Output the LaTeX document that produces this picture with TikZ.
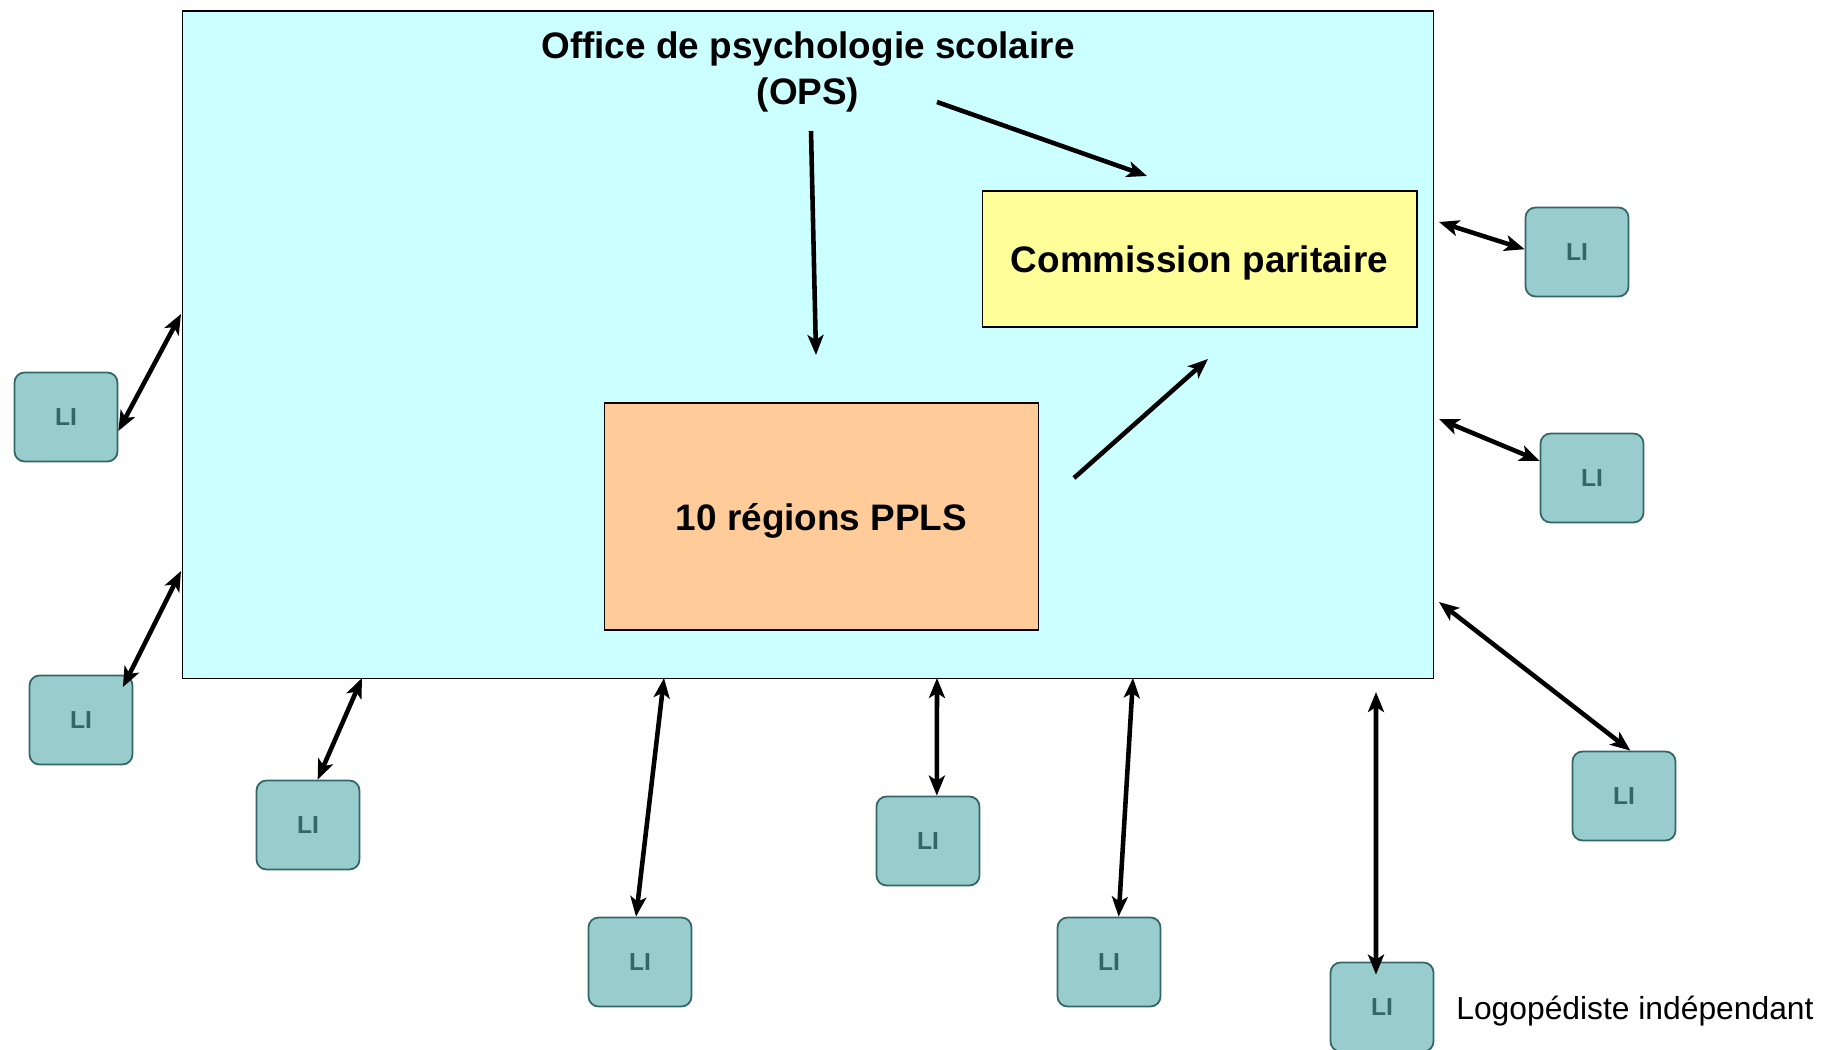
\documentclass[tikz,border=0pt]{standalone}
\usepackage{fontspec}
\setmainfont{Liberation Sans}
\usetikzlibrary{arrows.meta}

\definecolor{opscyan}{HTML}{CCFFFF}
\definecolor{cpyellow}{HTML}{FFFF99}
\definecolor{pplsorange}{HTML}{FFCC99}
\definecolor{lifill}{HTML}{99CCCC}
\definecolor{liedge}{HTML}{336666}

\tikzset{
  li/.style={draw=liedge, line width=1pt, fill=lifill, rounded corners=0.2cm,
    minimum width=2.06cm, minimum height=1.78cm, text=liedge,
    font=\fontsize{14}{16}\selectfont\bfseries},
  panel/.style={draw, line width=0.6pt, minimum width=8.7cm, text depth=0pt,
    font=\fontsize{21}{25}\selectfont\bfseries},
  link/.style={line width=2.6pt, -{Stealth[length=0.4cm,width=0.32cm,inset=0.1cm]}},
  twoway/.style={line width=2.6pt,
    {Stealth[length=0.4cm,width=0.32cm,inset=0.1cm]}-{Stealth[length=0.4cm,width=0.32cm,inset=0.1cm]}},
}

\begin{document}
\begin{tikzpicture}[x=0.02cm, y=-0.02cm]
\useasboundingbox (0,0) rectangle (1836,1050);

% office
\node[draw, line width=0.8pt, fill=opscyan, minimum width=25.03cm, minimum height=13.35cm,
  anchor=north west, inner sep=0pt] (office) at (181.5,10.5) {};
\node[align=center, font=\fontsize{21}{26}\selectfont\bfseries] (ops) at (808,72)
  {Office de psychologie scolaire\\(OPS)};
\node[panel, fill=cpyellow, minimum height=2.72cm] (commission) at (1199.5,259) {Commission paritaire};
\node[panel, fill=pplsorange, minimum height=4.54cm] (ppls) at (821.5,516.5) {10 régions PPLS};

% LI
\node[li] (li1) at (66,417) {LI};
\node[li] (li2) at (81,720) {LI};
\node[li] (li3) at (308,825) {LI};
\node[li] (li4) at (640,962) {LI};
\node[li] (li5) at (928,841) {LI};
\node[li] (li6) at (1109,962) {LI};
\node[li] (li7) at (1382,1007) {LI};
\node[li] (li8) at (1624,796) {LI};
\node[li] (li9) at (1592,478) {LI};
\node[li] (li10) at (1577,252) {LI};
\node[anchor=west, inner sep=0pt, font=\fontsize{18.1}{21}\selectfont] (legend) at (1456,1011)
  {Logopédiste indépendant};

% free ends
\coordinate (o1) at (811,131);
\coordinate (o2) at (816,355);
\coordinate (o3) at (937,102);
\coordinate (o4) at (1147,176);
\coordinate (p1) at (1074,478);
\coordinate (p2) at (1208,359);
\coordinate (b1) at (181,314);
\coordinate (b2) at (181,571);
\coordinate (b3) at (362,678);
\coordinate (b4) at (664,678);
\coordinate (b5) at (937,678);
\coordinate (b6) at (1133,678);
\coordinate (b7) at (1376,692);
\coordinate (b8) at (1439,602);
\coordinate (b9) at (1439,419);
\coordinate (b10) at (1439,222);

\draw[link] (o1) -- (o2);
\draw[link] (o3) -- (o4);
\draw[link] (p1) -- (p2);

% LI links
\draw[twoway] (li1.-15) -- (b1);
\draw[twoway] ([xshift=-0.21cm,yshift=-0.25cm]li2.north east) -- (b2);
\draw[twoway] (li3.78) -- (b3);
\draw[twoway] (li4.95) -- (b4);
\draw[twoway] (li5.79) -- (b5);
\draw[twoway] (li6.78) -- (b6);
\draw[twoway] (b7) -- ([xshift=-0.12cm,yshift=-0.26cm]li7.north);
\draw[twoway] (li8.82) -- (b8);
\draw[twoway] (li9.162) -- (b9);
\draw[twoway] (li10.177) -- (b10);

\end{tikzpicture}
\end{document}
